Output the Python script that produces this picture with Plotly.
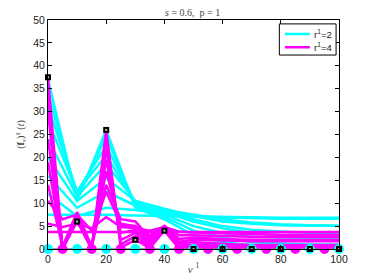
import plotly.graph_objects as go

# ---- data ----
x_even = [0, 10, 20, 30, 40, 50, 60, 70, 80, 90, 100]
x_all = [0, 5, 10, 15, 20, 25, 30, 35, 40, 45, 50, 55, 60, 65, 70, 75, 80, 85, 90, 95, 100]
x_odd = [5, 15, 25, 35, 45, 55, 65, 75, 85, 95]

cyan_lines = [
    [7.5, 7.5, 7.5, 7.3, 7.2, 7.0, 6.9, 6.8, 6.8, 6.8, 6.8],
    [12.0, 7.2, 9.0, 8.5, 7.8, 7.2, 6.9, 6.7, 6.6, 6.6, 6.6],
    [16.0, 9.0, 12.5, 9.5, 8.5, 7.5, 6.5, 5.8, 5.4, 5.2, 5.1],
    [20.0, 10.5, 15.5, 10.5, 8.8, 7.2, 6.0, 5.5, 5.2, 5.1, 5.0],
    [24.0, 11.5, 18.5, 10.5, 8.5, 6.5, 5.0, 4.2, 3.8, 3.5, 3.4],
    [28.0, 12.5, 20.5, 10.0, 8.0, 6.0, 4.5, 3.5, 3.0, 2.7, 2.6],
    [31.0, 12.5, 22.5, 10.0, 7.5, 5.0, 3.5, 2.7, 2.5, 2.4, 2.4],
    [34.0, 11.5, 24.5, 9.5, 7.0, 4.0, 2.5, 1.5, 1.2, 1.0, 1.0],
    [37.0, 10.5, 26.0, 9.0, 6.5, 3.0, 1.5, 0.8, 0.5, 0.4, 0.4],
]

magenta_lines = [
    [3.7, 3.7, 3.7, 3.7, 3.7, 3.7, 3.7, 3.7, 3.7, 3.7, 3.7, 3.7, 3.7, 3.7, 3.7, 3.7, 3.7, 3.7, 3.7, 3.7, 3.7],
    [5.5, 4.8, 5.5, 4.5, 7.0, 4.8, 4.6, 4.0, 4.8, 3.8, 3.6, 3.5, 3.4, 3.3, 3.2, 3.2, 3.1, 3.1, 3.1, 3.1, 3.1],
    [10.5, 6.5, 7.5, 4.0, 12.5, 5.5, 5.0, 3.0, 5.0, 3.0, 3.0, 2.9, 2.8, 2.8, 2.7, 2.7, 2.7, 2.7, 2.7, 2.7, 2.7],
    [14.0, 0.5, 8.0, 0.5, 14.0, 6.5, 6.0, 2.5, 5.0, 2.2, 2.5, 2.3, 2.2, 2.1, 2.0, 2.0, 2.0, 2.0, 2.0, 2.0, 2.0],
    [19.0, 0.3, 8.0, 0.3, 17.0, 5.0, 5.0, 2.0, 5.0, 1.6, 2.0, 1.9, 1.8, 1.7, 1.7, 1.7, 1.7, 1.7, 1.7, 1.7, 1.7],
    [24.0, 0.2, 7.5, 0.2, 19.5, 3.5, 4.2, 1.5, 4.6, 1.2, 1.5, 1.3, 1.1, 1.0, 0.9, 0.9, 0.9, 0.9, 0.9, 0.9, 0.9],
    [30.0, 0.1, 7.0, 0.1, 22.0, 2.0, 3.5, 1.0, 4.4, 0.7, 1.0, 0.8, 0.6, 0.5, 0.5, 0.4, 0.4, 0.4, 0.4, 0.4, 0.4],
    [34.0, 0.05, 6.5, 0.05, 24.5, 1.0, 2.8, 0.5, 4.2, 0.4, 0.5, 0.4, 0.3, 0.3, 0.2, 0.2, 0.2, 0.2, 0.2, 0.2, 0.2],
    [37.5, 0.0, 6.0, 0.0, 26.0, 0.3, 2.0, 0.2, 4.0, 0.1, 0.1, 0.1, 0.1, 0.0, 0.0, 0.0, 0.0, 0.0, 0.0, 0.0, 0.0],
]

target_x = [0, 10, 20, 30, 40, 50, 60, 70, 80, 90, 100]
target_y = [37.5, 6.0, 26.0, 2.0, 4.0, 0.0, 0.0, 0.0, 0.0, 0.0, 0.0]

zero_even = [0] * len(x_even)
zero_odd = [0] * len(x_odd)
zero_line_x = [0, 100]
zero_line_y = [0, 0]

x_ticks = [0, 20, 40, 60, 80, 100]
y_ticks = [0, 5, 10, 15, 20, 25, 30, 35, 40, 45, 50]
legend_names = ["r<sup>1</sup>=2", "r<sup>1</sup>=4"]

CYAN = "#00FFFF"
MAGENTA = "#FF00FF"

fig = go.Figure()

for ys in cyan_lines:
    fig.add_trace(go.Scatter(x=x_even, y=ys, mode="lines",
                             line=dict(color=CYAN, width=2.5),
                             showlegend=False, hoverinfo="skip"))
for ys in magenta_lines:
    fig.add_trace(go.Scatter(x=x_all, y=ys, mode="lines",
                             line=dict(color=MAGENTA, width=2.5),
                             showlegend=False, hoverinfo="skip"))

fig.add_trace(go.Scatter(x=zero_line_x, y=zero_line_y, mode="lines",
                         line=dict(color="#808080", width=1.5),
                         showlegend=False, cliponaxis=False, hoverinfo="skip"))
fig.add_trace(go.Scatter(x=x_even, y=zero_even, mode="markers",
                         marker=dict(color=CYAN, size=10, line=dict(width=0)),
                         showlegend=False, cliponaxis=False, hoverinfo="skip"))
fig.add_trace(go.Scatter(x=x_odd, y=zero_odd, mode="markers",
                         marker=dict(color=MAGENTA, size=10, line=dict(width=0)),
                         showlegend=False, cliponaxis=False, hoverinfo="skip"))
fig.add_trace(go.Scatter(x=target_x, y=target_y, mode="markers",
                         marker=dict(color="black", size=6, symbol="square",
                                     line=dict(width=0)),
                         showlegend=False, cliponaxis=False, hoverinfo="skip"))
fig.add_trace(go.Scatter(x=target_x, y=target_y, mode="markers",
                         marker=dict(color="#BBBBBB", size=2, symbol="square",
                                     line=dict(width=0)),
                         showlegend=False, cliponaxis=False, hoverinfo="skip"))

# manual legend (paper coordinates)
shapes = [
    dict(type="rect", xref="paper", yref="paper", x0=0.795, x1=0.990, y0=0.847, y1=0.983,
         line=dict(color="black", width=1), fillcolor="white", layer="above"),
    dict(type="line", xref="paper", yref="paper", x0=0.814, x1=0.900, y0=0.939, y1=0.939,
         line=dict(color=CYAN, width=2.5), layer="above"),
    dict(type="line", xref="paper", yref="paper", x0=0.814, x1=0.900, y0=0.881, y1=0.881,
         line=dict(color=MAGENTA, width=2.5), layer="above"),
]
annotations = [
    dict(xref="paper", yref="paper", x=0.908, y=0.939, text=legend_names[0], showarrow=False,
         xanchor="left", yanchor="middle",
         font=dict(family="Liberation Sans, Arial", size=9.5, color="#222222")),
    dict(xref="paper", yref="paper", x=0.908, y=0.881, text=legend_names[1], showarrow=False,
         xanchor="left", yanchor="middle",
         font=dict(family="Liberation Sans, Arial", size=9.5, color="#222222")),
]

axis_common = dict(
    showgrid=False, zeroline=False, showline=True, linecolor="black",
    linewidth=1, mirror="ticks", ticks="inside", ticklen=4,
    tickcolor="black", automargin=False,
    tickfont=dict(family="Liberation Sans, Arial", size=10.5, color="#222222"),
)

fig.update_layout(
    width=374, height=280,
    margin=dict(l=48, r=35, t=20, b=31, autoexpand=False),
    paper_bgcolor="white", plot_bgcolor="white",
    title=dict(text="<i>s</i> = 0.6,  p = 1", x=0.515, xanchor="center",
               y=0.955, yanchor="middle", automargin=False,
               font=dict(family="Liberation Serif, DejaVu Serif", size=10, color="#444444")),
    xaxis=dict(range=[0, 100], tickvals=x_ticks,
               title=dict(text="<i>ν</i> <sup>1</sup>", standoff=1,
                          font=dict(family="Liberation Serif, DejaVu Serif", size=11, color="#444444")),
               **axis_common),
    yaxis=dict(range=[0, 50], tickvals=y_ticks,
               title=dict(text="(<b>f</b><sub><i>ν</i></sub>)<sup>1</sup> (<i>t</i>)", standoff=6,
                          font=dict(family="Liberation Serif, DejaVu Serif", size=10, color="#444444")),
               **axis_common),
    shapes=shapes,
    annotations=annotations,
    showlegend=False,
    hovermode=False,
)

fig.write_html("out.html", config={"displayModeBar": False},
               post_script="document.body.style.margin='0';document.body.style.padding='0';")
